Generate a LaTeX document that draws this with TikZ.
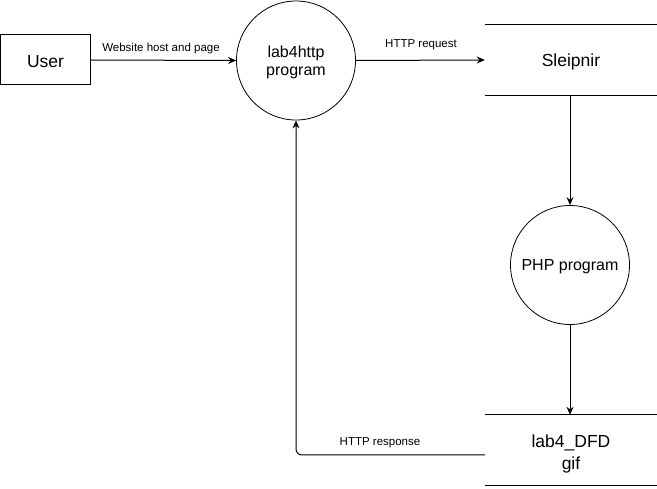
\documentclass[tikz,border=0pt]{standalone}
\usepackage{fontspec}
\setmainfont{Liberation Sans}
\usetikzlibrary{arrows.meta}
\begin{document}
\begin{tikzpicture}[x=1pt,y=-1pt,
  every node/.style={font=\fontsize{16}{18}\selectfont},
  big/.style={font=\fontsize{17.5}{21.5}\selectfont},
  extbox/.style={draw, big, line width=1pt, minimum width=90pt, minimum height=50pt, inner sep=0pt},
  proc/.style={draw, circle, line width=0.8pt, minimum size=119pt, inner sep=0pt, align=center},
  store/.style={big, minimum width=172pt, minimum height=70pt, inner sep=0pt, align=center},
  flow/.style={line width=1pt, -{Stealth[length=8pt,width=7pt]}},
  lbl/.style={font=\fontsize{11.5}{13}\selectfont, inner sep=1pt}]
\useasboundingbox (0,0) rectangle (657,489);
\node[extbox] (user) at (45.5,60) {};
\node[big] (usert) at (45.5,61.5) {User};
\node[proc] (l4) at (296,60.5) {};
\node[align=center] (l4t) at (296,62) {lab4http\\program};
\node[store] (sl) at (571,60) {};
\node[big] (slt) at (571,61.5) {Sleipnir};
\draw[line width=1pt] (sl.north west) -- (sl.north east) (sl.south west) -- (sl.south east);
\node[proc] (php) at (570,265) {};
\node (phpt) at (570,267) {PHP program};
\node[store] (dfd) at (571,450) {};
\node[big, align=center] (dfdt) at (571,454) {lab4\_DFD\\gif};
\draw[line width=1pt] (dfd.north west) -- (dfd.north east) (dfd.south west) -- (dfd.south east);
\draw[flow] (user.east) -- (l4.west);
\node[lbl] (w) at (161,49) {Website host and page};
\draw[flow] (l4.east) -- (sl.west);
\node[lbl] (hr) at (421,45) {HTTP request};
\draw[flow] (php.north |- sl.south) -- (php.north);
\draw[flow] (php.south) -- (php.south |- dfd.north);
\coordinate (r) at ([yshift=-5pt]dfd.west);
\draw[flow, rounded corners=6pt] (r) -| (l4.south);
\node[lbl] (hs) at (380,443) {HTTP response};
\end{tikzpicture}
\end{document}
